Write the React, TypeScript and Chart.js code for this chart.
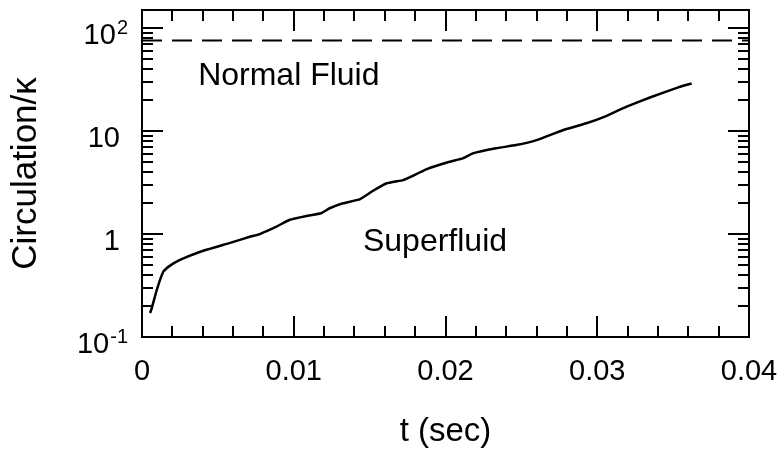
import React, { useEffect, useRef } from 'react';
import { Chart, registerables } from 'chart.js';

Chart.register(...registerables);

// ---- data ----
const timeSec = [
  0.00053, 0.00064, 0.00097, 0.0014, 0.00173, 0.0025, 0.0038, 0.0058, 0.0071, 0.00776,
  0.00886, 0.0097, 0.01084, 0.0118, 0.01237, 0.01325, 0.01434, 0.0152, 0.0161, 0.0172,
  0.01763, 0.01873, 0.02026, 0.02114, 0.0218, 0.02333, 0.02465, 0.026, 0.02773, 0.02928,
  0.03058, 0.0319, 0.03347, 0.03534, 0.03622,
];
const circulation = [
  0.171, 0.19, 0.286, 0.43, 0.48, 0.56, 0.67, 0.82, 0.94, 1.0,
  1.18, 1.37, 1.5, 1.59, 1.78, 1.99, 2.17, 2.62, 3.1, 3.34,
  3.55, 4.25, 5.04, 5.43, 6.07, 6.8, 7.31, 8.18, 10.2, 11.9,
  14, 17.2, 21.2, 26.6, 29,
];
const normalFluidLevel = 76;

const xMin = 0;
const xMax = 0.04;
const yMin = 0.1;
const yMax = 150;

const xTickValues = [0, 0.01, 0.02, 0.03, 0.04];
const xTickLabels = ['0', '0.01', '0.02', '0.03', '0.04'];
const xMinorStep = 0.002;

const yTickValues = [0.1, 1, 10, 100];
const yTickBases = ['10', '1', '10', '10'];
const yTickExponents = ['-1', '', '', '2'];

const xTitle = 't (sec)';
const yTitle = 'Circulation/κ';

const regionLabels = ['Normal Fluid', 'Superfluid'];
const regionLabelT = [0.0037, 0.01456];
const regionLabelC = [34, 0.84];

const FONT = '"Liberation Sans", Arial, Helvetica, sans-serif';

const framePlugin = {
  id: 'frameTicks',
  afterDatasetsDraw(chart: any) {
    const { ctx, chartArea: a, scales } = chart;
    const xs = scales.x;
    const ys = scales.y;
    ctx.save();
    ctx.strokeStyle = '#000';
    ctx.fillStyle = '#000';
    ctx.lineWidth = 2;
    ctx.lineCap = 'butt';
    const seg = (x1: number, y1: number, x2: number, y2: number) => {
      ctx.beginPath();
      ctx.moveTo(x1, y1);
      ctx.lineTo(x2, y2);
      ctx.stroke();
    };
    // frame
    ctx.strokeRect(a.left, a.top, a.right - a.left, a.bottom - a.top);

    // x ticks (bottom and top, pointing inward)
    const nX = Math.round((xMax - xMin) / xMinorStep);
    for (let i = 1; i < nX; i++) {
      const v = xMin + i * xMinorStep;
      const px = Math.round(xs.getPixelForValue(v));
      const len = i % 5 === 0 ? 21 : 11;
      seg(px, a.bottom, px, a.bottom - len);
      seg(px, a.top, px, a.top + len);
    }

    // y ticks (left and right, pointing inward)
    for (const dec of yTickValues) {
      for (let m = 1; m <= 9; m++) {
        const v = m * dec;
        if (v > yMax * 1.0001 || v < yMin * 0.9999) continue;
        const py = Math.round(ys.getPixelForValue(v));
        const len = m === 1 ? 21 : 11;
        seg(a.left, py, a.left + len, py);
        seg(a.right, py, a.right - len, py);
      }
    }

    // y tick labels with superscripts
    ctx.textAlign = 'right';
    ctx.textBaseline = 'alphabetic';
    yTickValues.forEach((v, i) => {
      const py = ys.getPixelForValue(v);
      const base = yTickBases[i];
      const exp = yTickExponents[i];
      if (exp) {
        ctx.font = `20px ${FONT}`;
        const expW = ctx.measureText(exp).width;
        const expRight = a.left - 14;
        ctx.fillText(exp, expRight, py + 6);
        ctx.font = `29px ${FONT}`;
        ctx.fillText(base, expRight - expW - 1, py + 16);
      } else {
        ctx.font = `29px ${FONT}`;
        ctx.fillText(base, a.left - 22, py + 16);
      }
    });

    // region labels
    ctx.font = `32px ${FONT}`;
    ctx.textAlign = 'left';
    ctx.textBaseline = 'middle';
    regionLabels.forEach((txt, i) => {
      ctx.fillText(txt, xs.getPixelForValue(regionLabelT[i]), ys.getPixelForValue(regionLabelC[i]));
    });
    ctx.restore();
  },
};

export default function App() {
  const canvasRef = useRef<HTMLCanvasElement | null>(null);

  useEffect(() => {
    const canvas = canvasRef.current;
    if (!canvas) return;
    const chart = new Chart(canvas, {
      type: 'line',
      data: {
        datasets: [
          {
            data: timeSec.map((t, i) => ({ x: t, y: circulation[i] })),
            borderColor: '#000',
            borderWidth: 2.5,
            pointRadius: 0,
            tension: 0.1,
            fill: false,
          },
          {
            data: [
              { x: xMin, y: normalFluidLevel },
              { x: xMax, y: normalFluidLevel },
            ],
            borderColor: '#000',
            borderWidth: 2,
            borderDash: [20, 10],
            pointRadius: 0,
            fill: false,
          },
        ],
      },
      options: {
        responsive: false,
        animation: false,
        layout: { padding: { left: 0, top: 10, right: 35, bottom: 0 } },
        plugins: {
          legend: { display: false },
          tooltip: { enabled: false },
        },
        scales: {
          x: {
            type: 'linear',
            min: xMin,
            max: xMax,
            grid: { display: false, drawTicks: false },
            border: { display: false },
            afterBuildTicks: (s: any) => {
              s.ticks = xTickValues.map((v) => ({ value: v }));
            },
            afterFit: (s: any) => {
              s.height = 122;
              s.paddingLeft = 0;
              s.paddingRight = 0;
            },
            ticks: {
              color: '#000',
              font: { family: FONT, size: 29 },
              padding: 18,
              maxRotation: 0,
              autoSkip: false,
              callback: (v: any) => {
                const idx = xTickValues.findIndex((t) => Math.abs(t - Number(v)) < 1e-9);
                return idx >= 0 ? xTickLabels[idx] : '';
              },
            },
            title: {
              display: true,
              text: xTitle,
              color: '#000',
              font: { family: FONT, size: 33 },
              padding: { top: 0, bottom: 7 },
            },
          },
          y: {
            type: 'logarithmic',
            min: yMin,
            max: yMax,
            grid: { display: false, drawTicks: false },
            border: { display: false },
            ticks: { display: false },
            afterFit: (s: any) => {
              s.width = 142;
              s.paddingTop = 0;
              s.paddingBottom = 0;
            },
            title: {
              display: true,
              text: yTitle,
              color: '#000',
              font: { family: FONT, size: 35 },
              padding: { top: 5, bottom: 0 },
            },
          },
        },
      },
      plugins: [framePlugin],
    } as any);
    return () => chart.destroy();
  }, []);

  return (
    <div style={{ position: 'fixed', left: 0, top: 0, width: 784, height: 459, background: '#fff' }}>
      <canvas ref={canvasRef} width={784} height={459} style={{ display: 'block' }} />
    </div>
  );
}
